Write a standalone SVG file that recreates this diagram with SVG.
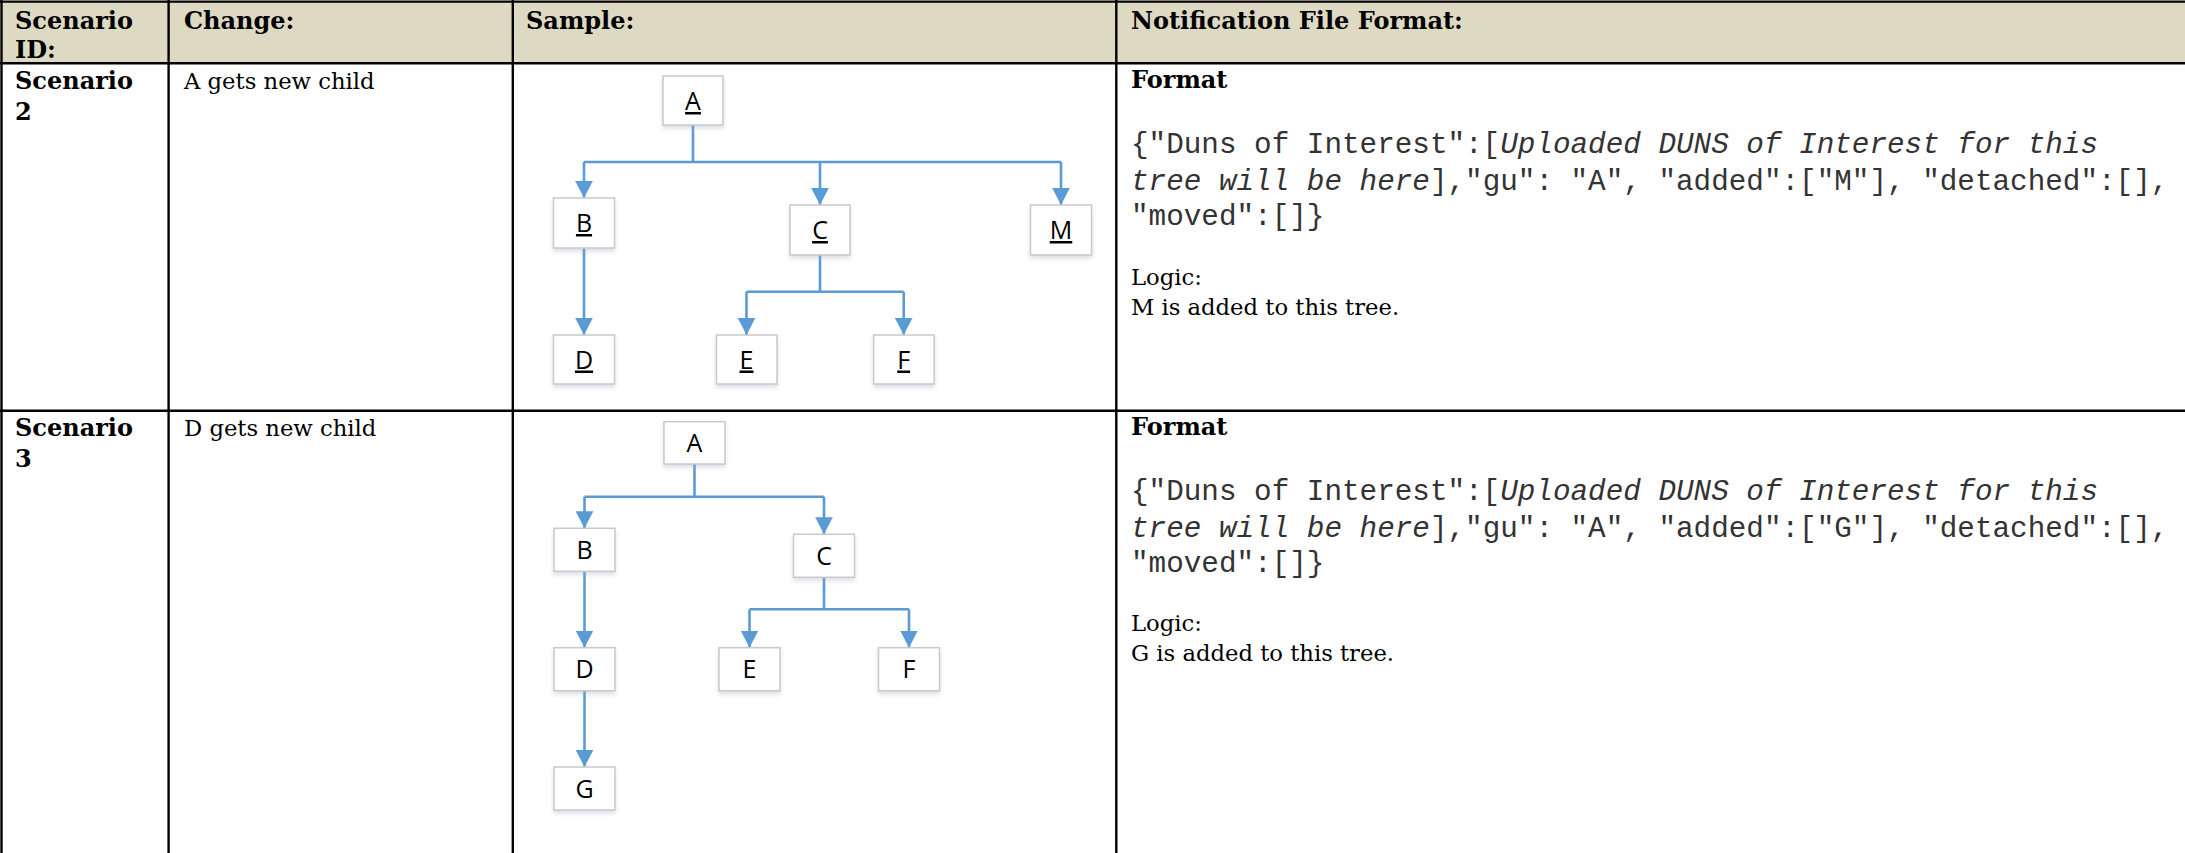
<svg xmlns="http://www.w3.org/2000/svg" width="2185" height="853" viewBox="0 0 2185 853">
<style>
.hd{font-family:"DejaVu Serif",serif;font-weight:bold;font-size:24px;fill:#000}
.tx{font-family:"DejaVu Serif",serif;font-size:22.7px;fill:#000}
.mono{font-family:"Liberation Mono",monospace;font-size:29.3px;fill:#333}
.it{font-style:italic}
.grid{stroke:#000;stroke-width:2.4;fill:none}
.box{fill:#fff;stroke:#c9c9c9;stroke-width:1.5}
.lbl{font-family:"Open Sans","Liberation Sans",sans-serif;font-size:25px;fill:#000;text-anchor:middle}
.u{text-decoration:underline}
.edge{stroke:#5b9bd5;stroke-width:2.6;fill:none}
.arr{stroke:#5b9bd5;stroke-width:2.6;fill:none;marker-end:url(#ah)}
</style>
<defs>
<marker id="ah" markerUnits="userSpaceOnUse" markerWidth="18" markerHeight="18" viewBox="0 0 18 18" refX="17" refY="9" orient="auto">
<path d="M0,0.2 L17,9 L0,17.8 Z" fill="#5b9bd5"/>
</marker>
<filter id="sh" x="-20%" y="-20%" width="140%" height="150%">
<feDropShadow dx="0" dy="3" stdDeviation="2" flood-color="#9aa6bd" flood-opacity="0.35"/>
</filter>
</defs>
<rect width="2185" height="853" fill="#fff"/>
<g id="table">
<rect x="1.5" y="1.5" width="2184" height="61.8" fill="#ddd9c3"/>
<line class="grid" x1="0" y1="1.6" x2="2185" y2="1.6"/>
<line class="grid" x1="0" y1="63.3" x2="2185" y2="63.3"/>
<line class="grid" x1="0" y1="410.7" x2="2185" y2="410.7"/>
<line class="grid" x1="1.5" y1="0" x2="1.5" y2="853"/>
<line class="grid" x1="168.6" y1="0" x2="168.6" y2="853"/>
<line class="grid" x1="512.8" y1="0" x2="512.8" y2="853"/>
<line class="grid" x1="1116.3" y1="0" x2="1116.3" y2="853"/>
</g>
<g id="header">
<text class="hd" x="15" y="28.5">Scenario</text>
<text class="hd" x="15" y="57.5">ID:</text>
<text class="hd" x="184" y="28.5">Change:</text>
<text class="hd" x="526" y="28.5">Sample:</text>
<text class="hd" x="1131" y="28.5">Notification File Format:</text>
</g>
<g id="row2-text">
<text class="hd" x="15" y="89.3">Scenario</text>
<text class="hd" x="15" y="119.5">2</text>
<text class="tx" x="184" y="89.3">A gets new child</text>
<text class="hd" x="1131" y="88.3">Format</text>
<text class="mono" x="1131" y="153">{"Duns of Interest":[<tspan class="it">Uploaded DUNS of Interest for this</tspan></text>
<text class="mono" x="1131" y="189.5"><tspan class="it">tree will be here</tspan>],"gu": "A", "added":["M"], "detached":[],</text>
<text class="mono" x="1131" y="225">"moved":[]}</text>
<text class="tx" x="1131" y="285">Logic:</text>
<text class="tx" x="1131" y="315">M is added to this tree.</text>
</g>
<g id="row3-text">
<text class="hd" x="15" y="435.5">Scenario</text>
<text class="hd" x="15" y="466.5">3</text>
<text class="tx" x="184" y="435.5">D gets new child</text>
<text class="hd" x="1131" y="434.5">Format</text>
<text class="mono" x="1131" y="500">{"Duns of Interest":[<tspan class="it">Uploaded DUNS of Interest for this</tspan></text>
<text class="mono" x="1131" y="536.5"><tspan class="it">tree will be here</tspan>],"gu": "A", "added":["G"], "detached":[],</text>
<text class="mono" x="1131" y="572">"moved":[]}</text>
<text class="tx" x="1131" y="631">Logic:</text>
<text class="tx" x="1131" y="661">G is added to this tree.</text>
</g>
<g id="connectors">
<path class="edge" d="M693,125 V162 M584,162 H1061"/>
<path class="arr" d="M584,162 V198"/>
<path class="arr" d="M820,162 V205"/>
<path class="arr" d="M1061,162 V205"/>
<path class="arr" d="M584,248 V335"/>
<path class="edge" d="M820,255 V291.7 M746.5,291.7 H903.7"/>
<path class="arr" d="M746.5,291.7 V335"/>
<path class="arr" d="M903.7,291.7 V335"/>
<path class="edge" d="M694.5,464 V496.7 M584.5,496.7 H824"/>
<path class="arr" d="M584.5,496.7 V528.3"/>
<path class="arr" d="M824,496.7 V534.3"/>
<path class="arr" d="M584.5,571.3 V647.7"/>
<path class="edge" d="M824,577.3 V609.3 M749.5,609.3 H909"/>
<path class="arr" d="M749.5,609.3 V647.7"/>
<path class="arr" d="M909,609.3 V647.7"/>
<path class="arr" d="M584.5,690.7 V767"/>
</g>
<g id="s2-A"><rect class="box" filter="url(#sh)" x="663" y="76" width="60" height="49"/><text class="lbl u" x="693" y="110">A</text></g>
<g id="s2-B"><rect class="box" filter="url(#sh)" x="553.5" y="198" width="61" height="50"/><text class="lbl u" x="584" y="232">B</text></g>
<g id="s2-C"><rect class="box" filter="url(#sh)" x="790" y="205" width="60" height="50"/><text class="lbl u" x="820" y="239">C</text></g>
<g id="s2-M"><rect class="box" filter="url(#sh)" x="1030.5" y="205" width="61" height="50"/><text class="lbl u" x="1061" y="239">M</text></g>
<g id="s2-D"><rect class="box" filter="url(#sh)" x="553.5" y="335" width="61" height="49"/><text class="lbl u" x="584" y="368.5">D</text></g>
<g id="s2-E"><rect class="box" filter="url(#sh)" x="716.5" y="335" width="60.5" height="49"/><text class="lbl u" x="746.5" y="368.5">E</text></g>
<g id="s2-F"><rect class="box" filter="url(#sh)" x="873.7" y="335" width="60.5" height="49"/><text class="lbl u" x="903.7" y="368.5">F</text></g>
<g id="s3-A"><rect class="box" filter="url(#sh)" x="664" y="421.7" width="61" height="42.3"/><text class="lbl" x="694.5" y="451.5">A</text></g>
<g id="s3-B"><rect class="box" filter="url(#sh)" x="554" y="528.3" width="61" height="43"/><text class="lbl" x="584.5" y="558.5">B</text></g>
<g id="s3-C"><rect class="box" filter="url(#sh)" x="793.5" y="534.3" width="61" height="43"/><text class="lbl" x="824" y="564.5">C</text></g>
<g id="s3-D"><rect class="box" filter="url(#sh)" x="554" y="647.7" width="61" height="43"/><text class="lbl" x="584.5" y="678">D</text></g>
<g id="s3-E"><rect class="box" filter="url(#sh)" x="719" y="647.7" width="61" height="43"/><text class="lbl" x="749.5" y="678">E</text></g>
<g id="s3-F"><rect class="box" filter="url(#sh)" x="878.5" y="647.7" width="61" height="43"/><text class="lbl" x="909" y="678">F</text></g>
<g id="s3-G"><rect class="box" filter="url(#sh)" x="554" y="767" width="61" height="43"/><text class="lbl" x="584.5" y="797.5">G</text></g>
</svg>
